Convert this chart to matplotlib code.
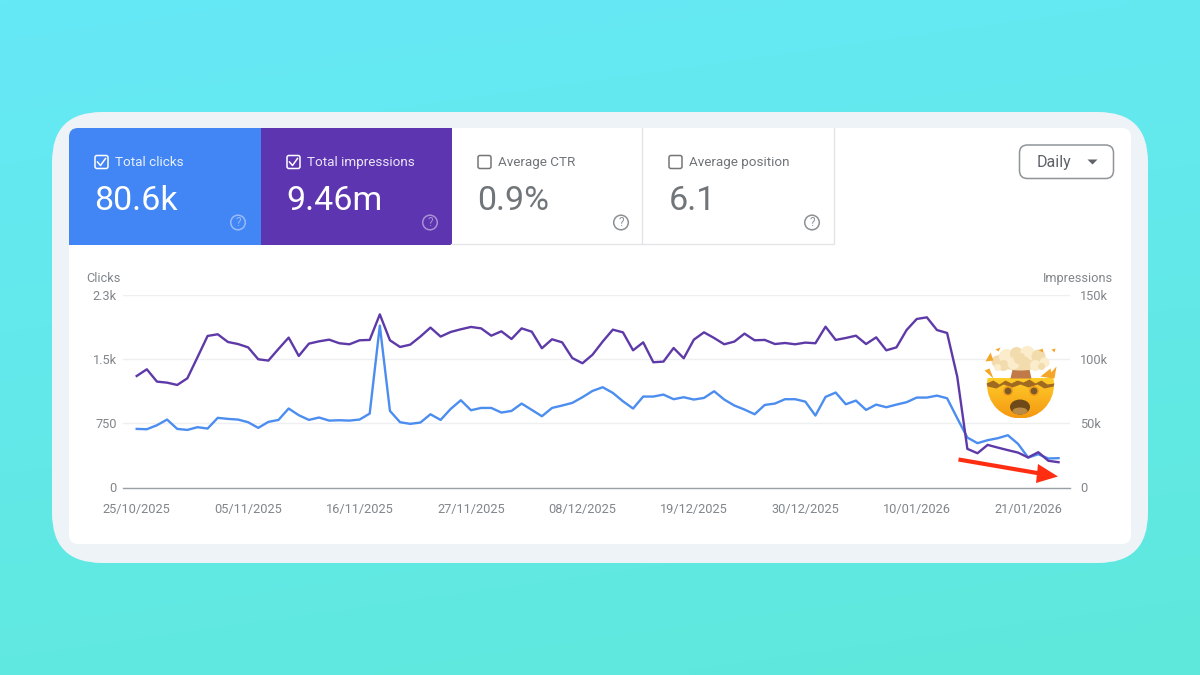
import numpy as np
import pandas as pd
import matplotlib
matplotlib.use('Agg')
import matplotlib.pyplot as plt
import matplotlib.dates as mdates
from matplotlib.patches import FancyBboxPatch, Circle, Polygon, Ellipse

plt.rcParams['font.family'] = ['Roboto', 'DejaVu Sans']

start_date = '2025-10-25'
clicks = [685, 681, 728, 794, 685, 673, 705, 689, 814, 802, 794, 763, 697, 767, 790, 923,
          845, 790, 818, 782, 786, 782, 794, 864, 1892, 895, 763, 744, 759, 856, 790, 919,
          1020, 903, 930, 930, 876, 895, 981, 907, 833, 930, 958, 989, 1055, 1129, 1172, 1106,
          1008, 923, 1063, 1063, 1086, 1032, 1055, 1028, 1047, 1125, 1028, 958, 911, 856, 965, 981,
          1032, 1032, 1004, 841, 1059, 1110, 973, 1016, 907, 969, 938, 969, 997, 1051, 1051, 1074,
          1043, 810, 584, 518, 553, 576, 611, 510, 350, 389, 339, 343]
impressions = [86.9, 92.1, 82.5, 81.7, 79.9, 85.1, 101.5, 118.1, 119.4, 113.4, 111.8, 109.2, 99.9, 98.9, 108.0, 116.8,
               102.5, 112.1, 113.9, 115.2, 112.4, 111.6, 114.7, 115.0, 134.9, 114.7, 109.5, 111.3, 117.6, 124.6, 117.6, 121.2,
               123.3, 125.1, 124.0, 118.3, 121.7, 115.7, 124.0, 121.4, 108.5, 115.5, 113.1, 100.9, 96.8, 103.5, 113.7, 123.0,
               120.9, 106.9, 113.1, 97.6, 98.1, 108.7, 100.7, 115.2, 120.9, 116.5, 111.6, 113.7, 119.9, 114.7, 115.0, 111.8,
               112.6, 111.6, 112.9, 112.4, 125.3, 115.0, 116.5, 118.3, 111.8, 117.0, 106.9, 109.2, 122.7, 131.3, 132.6, 122.7,
               120.4, 86.4, 30.1, 26.7, 33.2, 31.1, 29.1, 27.2, 23.4, 27.5, 20.8, 19.7]

tick_dates = ['2025-10-25', '2025-11-05', '2025-11-16', '2025-11-27', '2025-12-08',
              '2025-12-19', '2025-12-30', '2026-01-10', '2026-01-21']
clicks_ticks = [0, 750, 1500, 2250]
clicks_labels = ['0', '750', '1.5k', '2.3k']
impr_ticks = [0, 50, 100, 150]
impr_labels = ['0', '50k', '100k', '150k']

tabs = [('Total clicks', '80.6k', 69, 192, '#4285f4', True),
        ('Total impressions', '9.46m', 261, 191, '#5e35b1', True),
        ('Average CTR', '0.9%', 452, 191, '#ffffff', False),
        ('Average position', '6.1', 643, 192, '#ffffff', False)]

GREY = '#80868b'
BLUE_LINE = '#4c8df0'
PURPLE_LINE = '#5e3aa8'

fig = plt.figure(figsize=(12, 6.75), dpi=100)

# background in pixel coordinates
bg = fig.add_axes([0, 0, 1, 1])
bg.axis('off')

n = 64
yy, xx = np.mgrid[0:1:n*1j, 0:1:n*1j]
t = (yy * 0.8 + xx * 0.2)[..., None]
grad = np.array([0.40, 0.91, 0.965]) * (1 - t) + np.array([0.37, 0.91, 0.86]) * t
bg.imshow(grad, extent=(0, 1200, 675, 0), aspect='auto', zorder=0, interpolation='bilinear')
bg.set_xlim(0, 1200)
bg.set_ylim(675, 0)


def round_box(ax, x0, y0, x1, y1, r, **kw):
    p = FancyBboxPatch((x0 + r, y0 + r), x1 - x0 - 2*r, y1 - y0 - 2*r,
                       boxstyle='round,pad=%f,rounding_size=%f' % (r, r), **kw)
    ax.add_patch(p)
    return p


round_box(bg, 52, 112, 1148, 563, 50, fc='#eef3f8', ec='none', zorder=1)
white_card = round_box(bg, 69, 128, 1131, 544, 9, fc='#ffffff', ec='none', zorder=2)

# metric tabs
for label, value, x0, w, color, selected in tabs:
    if selected:
        tab = bg.fill_between([x0, x0 + w], 128, 244.5, color=color, lw=0, zorder=3)
        tab.set_clip_path(white_card)
    fg = '#ffffff' if selected else '#70757a'
    if not selected:
        bg.plot([x0 + w - 1, x0 + w - 1, x0 - 1], [128, 244, 244], color='#e3e5e8', lw=1, zorder=4)
    round_box(bg, x0 + 26, 155.5, x0 + 39, 168.5, 2, fc='none',
              ec=fg if selected else '#757575', lw=1.1, zorder=5)
    if selected:
        bg.plot([x0 + 28.5, x0 + 31.5, x0 + 36.5], [162, 165.5, 158.5], color=fg, lw=1.1, zorder=5)
    bg.text(x0 + 46, 162.3, label, color=fg, fontsize=9.7, ha='left', va='center', zorder=5,
            alpha=0.88 if selected else 1)
    bg.text(x0 + 25.5, 201, value, color=fg, fontsize=24.5, ha='left', va='center', zorder=5)
    bg.add_patch(Circle((x0 + 169, 222.5), 7.3, fc='none', ec=fg, lw=1.1, alpha=0.45 if selected else 0.8, zorder=5))
    bg.text(x0 + 169, 223, '?', color=fg, fontsize=8.5, ha='center', va='center', zorder=5,
            alpha=0.45 if selected else 0.8)

# Daily dropdown
round_box(bg, 1019.5, 145, 1113.5, 178.5, 8, fc='#ffffff', ec='#8f9499', lw=1.1, zorder=3)
bg.text(1054.5, 162.5, 'Daily', color='#5f6368', fontsize=11.5, ha='center', va='center', zorder=4)
bg.add_patch(Polygon([[1087.5, 159.5], [1097.5, 159.5], [1092.5, 164.5]], fc='#5f6368', ec='none', zorder=4))

# chart, left axis clicks
dates = pd.date_range(start_date, periods=len(clicks), freq='D')
px_w, px_h = 1200.0, 675.0
ax = fig.add_axes([123 / px_w, 1 - 487.5 / px_h, (1070 - 123) / px_w, 192.5 / px_h])
ax.patch.set_alpha(0)
ax.set_zorder(5)
ax2 = ax.twinx()
ax2.set_zorder(6)
ax2.patch.set_alpha(0)

ax.set_ylim(0, 2250)
ax2.set_ylim(0, 150)
x0_day = mdates.date2num(dates[0])
day_px = 10.13
ax.set_xlim(x0_day - (136.7 - 123) / day_px, x0_day + (1070 - 136.7) / day_px)

ax.plot(dates, clicks, color=BLUE_LINE, lw=1.7, solid_joinstyle='round', zorder=3)
ax2.plot(dates, impressions, color=PURPLE_LINE, lw=1.7, solid_joinstyle='round', zorder=3)

ax.set_xticks(pd.to_datetime(tick_dates))
ax.xaxis.set_major_formatter(mdates.DateFormatter('%d/%m/%Y'))
ax.set_yticks(clicks_ticks)
ax.set_yticklabels(clicks_labels)
ax2.set_yticks(impr_ticks)
ax2.set_yticklabels(impr_labels)
ax.grid(axis='y', color='#eeeff1', lw=1)
ax.set_axisbelow(True)
for a in (ax, ax2):
    for s in a.spines.values():
        s.set_visible(False)
    a.tick_params(length=0, labelsize=9.2, labelcolor=GREY)
ax.spines['bottom'].set_visible(True)
ax.spines['bottom'].set_color('#9aa0a6')
ax.spines['bottom'].set_linewidth(1)
ax.tick_params(axis='x', pad=11.5)
ax.tick_params(axis='y', pad=4.5)
ax2.tick_params(axis='y', pad=7.5)

bg.text(86, 278.3, 'Clicks', color=GREY, fontsize=9.2, ha='left', va='center', zorder=5)
bg.text(1113.5, 278.3, 'Impressions', color=GREY, fontsize=9.2, ha='right', va='center', zorder=5)

# overlay: arrow and emoji, pixel coordinates again
top = fig.add_axes([0, 0, 1, 1])
top.axis('off')
top.set_zorder(10)

top.plot([958.5, 1040], [459.5, 473.5], color='#ff2e12', lw=3, solid_capstyle='butt', zorder=2)
top.add_patch(Polygon([[1038, 464], [1058, 476.5], [1036, 483]], fc='#ff2e12', ec='none', zorder=2))

# exploding head emoji: face with a vertical gradient clipped to the head shape
cx, cy = 1020.5, 384.5
zig_x = [-34, -27, -21, -15, -9, -3, 3, 9, 15, 21, 27, 34]
zig_y = [-1, -4, 0, -4, -1, -4, -2, -5, -1, -4, 0, -1]
head_clip = Ellipse((cx, cy), 67, 68, transform=top.transData)
top.add_patch(Ellipse((cx, cy), 67, 68, fc='none', ec='none', zorder=3))
face = np.linspace(0, 1, 32)[:, None, None]
face = np.array([1.0, 0.80, 0.16]) * (1 - face) + np.array([0.96, 0.60, 0.07]) * face
head = top.imshow(face, extent=(cx - 34, cx + 34, cy + 34, cy - 6), aspect='auto',
                  zorder=3, interpolation='bilinear')
head.set_clip_path(head_clip)
band = [[cx + zx, cy + zy] for zx, zy in zip(zig_x, zig_y)]
band += [[cx + 33, cy + 2], [cx + 24, cy + 4], [cx + 17, cy], [cx + 8, cy + 3],
         [cx, cy], [cx - 8, cy + 3], [cx - 17, cy], [cx - 24, cy + 4], [cx - 33, cy + 2]]
top.add_patch(Polygon(band, fc='#a06a20', ec='none', zorder=4))
for ex in (-12.5, 13.5):
    top.add_patch(Circle((cx + ex, cy + 6.5), 5, fc='#f09a1a', ec='none', zorder=5))
    top.add_patch(Circle((cx + ex, cy + 6.5), 3.4, fc='#7a5a28', ec='none', zorder=6))
top.add_patch(Ellipse((cx - 0.5, cy + 22.5), 20, 15, fc='#6e4a18', ec='none', zorder=5))
top.add_patch(Ellipse((cx - 0.5, cy + 26.5), 15, 7, fc='#b88a45', ec='none', zorder=6))

# stem and mushroom cloud
top.add_patch(Polygon([[cx - 8, cy - 15], [cx + 9, cy - 15], [cx + 11, cy - 6], [cx - 10, cy - 6]],
                      fc='#c07a4a', ec='none', zorder=5))
top.add_patch(Ellipse((cx, cy - 24), 52, 20, fc='#f2dcae', ec='none', zorder=6))
cloud_x = [-23, -14, -4, 7, 18, 24, -17, -7, 4, 15, -1, -23, 21]
cloud_y = [-23, -28, -31, -31, -28, -22, -19, -21, -22, -19, -26, -17, -18]
cloud_r = [6, 7.5, 6.5, 7.5, 7, 5, 5.5, 6, 6, 5.5, 6, 3.5, 3.5]
for i in range(len(cloud_x)):
    top.add_patch(Circle((cx + cloud_x[i], cy + cloud_y[i]), cloud_r[i],
                         fc='#fbeccb' if i % 2 else '#f2dcae', ec='none', zorder=7))

# flying bits of skull
shards = [[[-35, -23], [-30, -32], [-27, -24]],
          [[-25, -35], [-20, -37], [-22, -33]],
          [[-36, -14], [-31, -16], [-27, -6]],
          [[20, -8], [30, -16], [32, -6]],
          [[27, -8], [36, -18], [34, -6]],
          [[18, -34], [22, -36], [23, -32]],
          [[31, -35], [35, -36], [34, -32]]]
for s in shards:
    top.add_patch(Polygon([[cx + a, cy + b] for a, b in s], fc='#f4a62a', ec='none', zorder=8))

top.set_xlim(0, 1200)
top.set_ylim(675, 0)

fig.savefig('out.png', dpi=100)
